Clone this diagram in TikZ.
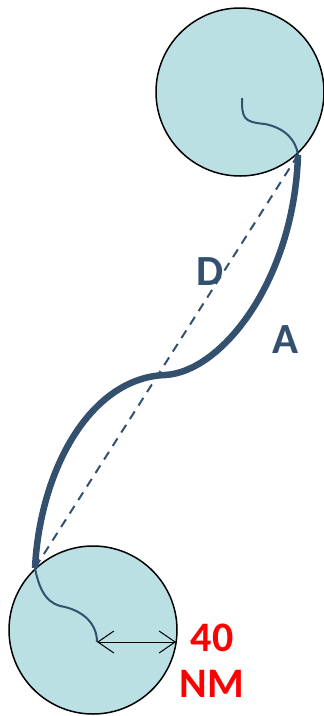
\documentclass[tikz,border=0pt]{standalone}
\usepackage{fontspec}
\setmainfont{Carlito}
\usepackage{xcolor}
\usetikzlibrary{arrows.meta,positioning}
\definecolor{zonefill}{HTML}{BAE0E4}
\definecolor{trackblue}{HTML}{34506F}

\begin{document}
\begin{tikzpicture}[
  x=1pt, y=-1pt,
  >=Stealth,
  zone/.style={circle, draw=black, line width=1.5pt, fill=zonefill, minimum size=168pt, inner sep=0pt},
  lbl/.style={font=\fontsize{43}{46}\selectfont\bfseries, text=trackblue},
]
\useasboundingbox (0,0) rectangle (324,716);

% Zones
\node[zone] (topzone) at (240,92) {};
\node[zone] (botzone) at (93,630) {};

% Points on the tracks
\coordinate (topc) at (242,98);
\coordinate (topexit) at (298,155);
\coordinate (botentry) at (35,568);
\coordinate (botc) at (97,642);
\coordinate (mid) at (165,375);
\coordinate (rimpt) at (176,642);

% Inner tracks
\draw[trackblue, line width=2pt] (topc) .. controls (242,118) and (243,122) .. (265,124)
  .. controls (285,128) and (296,140) .. (topexit);
\draw[trackblue, line width=2pt] (botentry) .. controls (40,595) and (50,605) .. (65,607)
  .. controls (85,612) and (97,625) .. (botc);

% Direct distance
\draw[trackblue, line width=2pt, dash pattern=on 9pt off 7pt] (topexit) -- (botentry);

% Actual track
\draw[trackblue, line width=6.5pt] (topexit) .. controls (294,280) and (222,372) .. (mid)
  .. controls (90,378) and (40,470) .. (botentry);

% Radius
\draw[line width=1pt, {Straight Barb[length=16pt,width=22pt]}-{Straight Barb[length=16pt,width=22pt]}] (botc) -- (rimpt);

% Labels
\node[lbl] (dlbl) at (210,272) {D};
\node[lbl] (albl) at (286,340) {A};
\node[lbl, text=red, align=center, font=\fontsize{42}{46}\selectfont\bfseries] (radlbl) at (212,661) {40\\NM};
\end{tikzpicture}
\end{document}
